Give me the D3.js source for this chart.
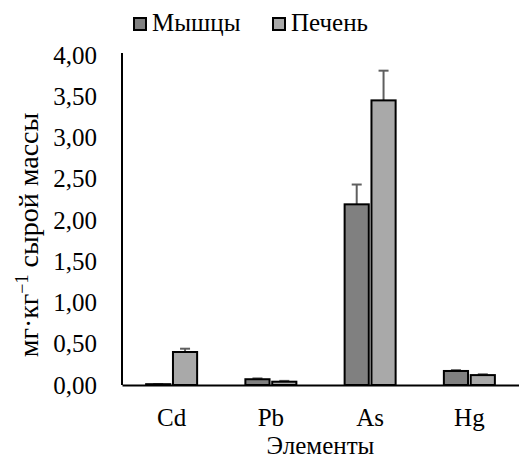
<!DOCTYPE html>
<html>
<head>
<meta charset="utf-8">
<script src="https://cdn.jsdelivr.net/npm/d3@7"></script>
<style>
  body { margin: 0; background: #fff; }
  svg { display: block; font-family: "Liberation Serif", "Times New Roman", serif; }
</style>
</head>
<body>
<svg id="chart" width="519" height="461"></svg>
<script>
const categories = ["Cd", "Pb", "As", "Hg"];
const seriesNames = ["Мышцы", "Печень"];
const muscle = [0.01, 0.07, 2.19, 0.17];
const liver = [0.40, 0.04, 3.45, 0.12];
const muscleErr = [0.00, 0.01, 0.24, 0.01];
const liverErr = [0.04, 0.01, 0.36, 0.01];
const yTicks = [0, 0.5, 1, 1.5, 2, 2.5, 3, 3.5, 4];

const colors = { "Мышцы": "#808080", "Печень": "#a9a9a9" };
const FONT = "'Liberation Serif', 'Times New Roman', serif";
const FS = 25;

const svg = d3.select("#chart");
const margin = { top: 55, right: 0, bottom: 76, left: 122 };
const width = 519, height = 461;

const x0 = d3.scaleBand()
  .domain(categories)
  .range([margin.left, width - margin.right])
  .padding(0);

const groupWidth = 51;
const x1 = d3.scaleBand()
  .domain(seriesNames)
  .range([0, groupWidth])
  .paddingInner(0.1);

const y = d3.scaleLinear()
  .domain([0, 4])
  .range([height - margin.bottom, margin.top]);

const rows = categories.map((c, i) => ({
  category: c,
  values: [
    { series: "Мышцы", value: muscle[i], err: muscleErr[i] },
    { series: "Печень", value: liver[i], err: liverErr[i] }
  ]
}));

// bars
const groups = svg.append("g")
  .selectAll("g")
  .data(rows)
  .join("g")
  .attr("transform", (d) =>
    `translate(${x0(d.category) + (x0.bandwidth() - groupWidth) / 2},0)`);

// error bars (drawn first so bar outline sits on top)
groups.selectAll("g.err")
  .data((d) => d.values)
  .join("g")
  .attr("class", "err")
  .call((g) =>
    g.append("line")
      .attr("x1", (d) => x1(d.series) + x1.bandwidth() / 2)
      .attr("x2", (d) => x1(d.series) + x1.bandwidth() / 2)
      .attr("y1", (d) => y(d.value))
      .attr("y2", (d) => y(d.value + d.err))
      .attr("stroke", "#5f5f5f")
      .attr("stroke-width", 2)
  )
  .call((g) =>
    g.append("line")
      .attr("x1", (d) => x1(d.series) + x1.bandwidth() / 2 - 5)
      .attr("x2", (d) => x1(d.series) + x1.bandwidth() / 2 + 5)
      .attr("y1", (d) => y(d.value + d.err))
      .attr("y2", (d) => y(d.value + d.err))
      .attr("stroke", "#5f5f5f")
      .attr("stroke-width", 2)
  );

groups.selectAll("rect")
  .data((d) => d.values)
  .join("rect")
  .attr("x", (d) => x1(d.series))
  .attr("y", (d) => y(d.value))
  .attr("width", x1.bandwidth())
  .attr("height", (d) => y(0) - y(d.value))
  .attr("fill", (d) => colors[d.series])
  .attr("stroke", "#000")
  .attr("stroke-width", 2);

// y axis
svg.append("g")
  .attr("transform", `translate(${margin.left},0)`)
  .call(d3.axisLeft(y).tickValues(yTicks).tickSize(0).tickPadding(25)
    .tickFormat((d) => d3.format(".2f")(d).replace(".", ",")))
  .attr("font-family", FONT)
  .attr("font-size", FS)
  .call((g) => g.selectAll(".tick text").attr("fill", "#000"))
  .call((g) => g.select(".domain").attr("stroke", "#000").attr("stroke-width", 2)
    .attr("d", `M0,${margin.top - 2}V${y(0)}`));

// x axis
svg.append("g")
  .attr("transform", `translate(0,${y(0)})`)
  .call(d3.axisBottom(x0).tickSize(0).tickPadding(23))
  .attr("font-family", FONT)
  .attr("font-size", FS)
  .call((g) => g.selectAll(".tick text").attr("fill", "#000"))
  .call((g) => g.select(".domain").attr("stroke", "#000").attr("stroke-width", 2));

// axis titles
svg.append("text")
  .attr("x", (margin.left + width) / 2)
  .attr("y", 454)
  .attr("text-anchor", "middle")
  .attr("font-size", FS)
  .text("Элементы");

const yTitle = svg.append("text")
  .attr("transform", `translate(38,235) rotate(-90)`)
  .attr("text-anchor", "middle")
  .attr("font-size", 28);
yTitle.append("tspan").text("мг·кг");
yTitle.append("tspan").attr("dy", -10).attr("font-size", 18).text("−1");
yTitle.append("tspan").attr("dy", 10).text(" сырой массы");

// legend
const legend = svg.append("g")
  .selectAll("g")
  .data(seriesNames)
  .join("g")
  .attr("transform", (d, i) => `translate(${i === 0 ? 134 : 273},18)`);

legend.append("rect")
  .attr("width", 12)
  .attr("height", 12)
  .attr("fill", (d) => colors[d])
  .attr("stroke", "#000")
  .attr("stroke-width", 2);

legend.append("text")
  .attr("x", 18)
  .attr("y", 13)
  .attr("font-size", FS)
  .text((d) => d);
</script>
</body>
</html>
